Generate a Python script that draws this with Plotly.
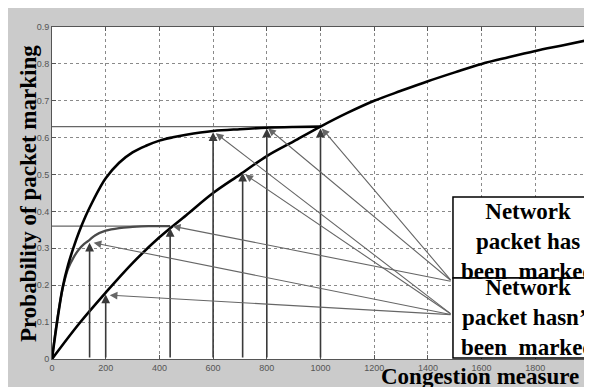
import plotly.graph_objects as go

# ---- data ----
curve_a_x = [0, 100, 200, 300, 400, 500, 600, 700, 800, 900, 1000, 1100, 1200,
             1300, 1400, 1500, 1600, 1700, 1800, 1900, 2000]
curve_a_y = [0, 0.095, 0.18, 0.26, 0.33, 0.39, 0.45, 0.50, 0.55, 0.59, 0.63,
             0.667, 0.70, 0.727, 0.753, 0.777, 0.80, 0.818, 0.835, 0.85, 0.865]

curve_b_x = [0, 20, 40, 60, 80, 100, 125, 150, 175, 200, 250, 300, 350, 400,
             450, 500, 600, 700, 800, 900, 1000]
curve_b_y = [0, 0.105, 0.195, 0.255, 0.302, 0.343, 0.387, 0.425, 0.46, 0.49,
             0.532, 0.56, 0.578, 0.592, 0.601, 0.608, 0.618, 0.623, 0.627, 0.629, 0.63]

curve_c_x = [0, 20, 41, 60, 80, 100, 120, 140, 160, 200, 250, 300, 360, 440]
curve_c_y = [0, 0.11, 0.195, 0.245, 0.275, 0.297, 0.312, 0.323, 0.335, 0.348,
             0.355, 0.358, 0.36, 0.36]

level_high = 0.63      # horizontal guide, ends at x = 1000
level_high_end = 1000
level_low = 0.36       # horizontal guide, ends at x = 440
level_low_end = 440

# vertical arrows (x, tip y)
vert_x = [140, 200, 440, 600, 710, 800, 1000]
vert_y = [0.315, 0.175, 0.355, 0.615, 0.505, 0.625, 0.625]

# "marked" source point and its targets
marked_src = (1490, 0.21)
marked_tx = [1005, 805, 450]
marked_ty = [0.625, 0.625, 0.36]
# "not marked" source point and its targets
unmarked_src = (1490, 0.12)
unmarked_tx = [610, 720, 155, 215]
unmarked_ty = [0.612, 0.50, 0.315, 0.173]

x_ticks = [0, 200, 400, 600, 800, 1000, 1200, 1400, 1600, 1800, 2000]
y_ticks = [0, 0.1, 0.2, 0.3, 0.4, 0.5, 0.6, 0.7, 0.8, 0.9]

box_marked = "Network<br>packet has<br>been\u00a0 marked"
box_unmarked = "Network<br>packet hasn\u2019t<br>been\u00a0 marked"
x_title = "Congestion measure"
y_title = "Probability of packet marking"

SERIF = "Liberation Serif, Times New Roman, serif"
SANS = "Liberation Sans, Arial, sans-serif"

fig = go.Figure()

fig.add_trace(go.Scatter(x=[0, level_high_end], y=[level_high, level_high], mode="lines",
                         line=dict(color="#666", width=1.3), hoverinfo="skip"))
fig.add_trace(go.Scatter(x=[0, level_low_end], y=[level_low, level_low], mode="lines",
                         line=dict(color="#666", width=1.3), hoverinfo="skip"))
fig.add_trace(go.Scatter(x=curve_c_x, y=curve_c_y, mode="lines", line_shape="spline",
                         line=dict(color="#4a4a4a", width=2.3)))
fig.add_trace(go.Scatter(x=curve_a_x, y=curve_a_y, mode="lines", line_shape="spline",
                         line=dict(color="black", width=2.6)))
fig.add_trace(go.Scatter(x=curve_b_x, y=curve_b_y, mode="lines", line_shape="spline",
                         line=dict(color="black", width=2.6)))

anns = []
for vx, vy in zip(vert_x, vert_y):
    anns.append(dict(x=vx, y=vy, ax=vx, ay=0, xref="x", yref="y", axref="x", ayref="y",
                     text="", showarrow=True, arrowhead=2, arrowsize=1.1,
                     arrowwidth=1.6, arrowcolor="#3a3a3a", standoff=0))
for tx, ty in zip(marked_tx, marked_ty):
    anns.append(dict(x=tx, y=ty, ax=marked_src[0], ay=marked_src[1], xref="x", yref="y",
                     axref="x", ayref="y", text="", showarrow=True, arrowhead=2,
                     arrowsize=1.4, arrowwidth=1.1, arrowcolor="#666", standoff=0))
for tx, ty in zip(unmarked_tx, unmarked_ty):
    anns.append(dict(x=tx, y=ty, ax=unmarked_src[0], ay=unmarked_src[1], xref="x", yref="y",
                     axref="x", ayref="y", text="", showarrow=True, arrowhead=2,
                     arrowsize=1.4, arrowwidth=1.1, arrowcolor="#666", standoff=0))

# legend-like boxes text
anns.append(dict(x=0.8864, y=0.354, xref="paper", yref="paper", text=box_marked,
                 showarrow=False, xanchor="center", yanchor="middle", align="center",
                 font=dict(family=SERIF, size=23, color="black", weight="bold")))
anns.append(dict(x=0.8864, y=0.1235, xref="paper", yref="paper", text=box_unmarked,
                 showarrow=False, xanchor="center", yanchor="middle", align="center",
                 font=dict(family=SERIF, size=23, color="black", weight="bold")))
# axis titles
anns.append(dict(x=-0.0447, y=0.5, xref="paper", yref="paper", text=y_title, textangle=-90,
                 showarrow=False, xanchor="center", yanchor="middle",
                 font=dict(family=SERIF, size=23, color="black", weight="bold")))
anns.append(dict(x=0.797, y=-0.054, xref="paper", yref="paper", text=x_title,
                 showarrow=False, xanchor="center", yanchor="middle",
                 font=dict(family=SERIF, size=23, color="black", weight="bold")))

shapes = [
    dict(type="rect", xref="paper", yref="paper", x0=0.7467, x1=1.08, y0=0.244, y1=0.488,
         fillcolor="white", line=dict(color="black", width=1.5)),
    dict(type="rect", xref="paper", yref="paper", x0=0.7467, x1=1.08, y0=0.003, y1=0.244,
         fillcolor="white", line=dict(color="black", width=1.5)),
]

axis_common = dict(showgrid=True, gridcolor="#8a8a8a", griddash="dot", gridwidth=1,
                   showline=True, linecolor="#555", linewidth=1, mirror="ticks",
                   ticks="inside", ticklen=4, tickcolor="#555", zeroline=False,
                   tickfont=dict(family=SANS, size=9, color="#555"))

fig.update_layout(
    width=584, height=379, autosize=False,
    margin=dict(l=44, r=3, t=19, b=28),
    paper_bgcolor="#cbcbcb", plot_bgcolor="white",
    showlegend=False,
    xaxis=dict(range=[0, 2000], tickvals=x_ticks, **axis_common),
    yaxis=dict(range=[0, 0.9], tickvals=y_ticks, **axis_common),
    annotations=anns, shapes=shapes,
)

fig.write_html("out.html", config={"responsive": False})
